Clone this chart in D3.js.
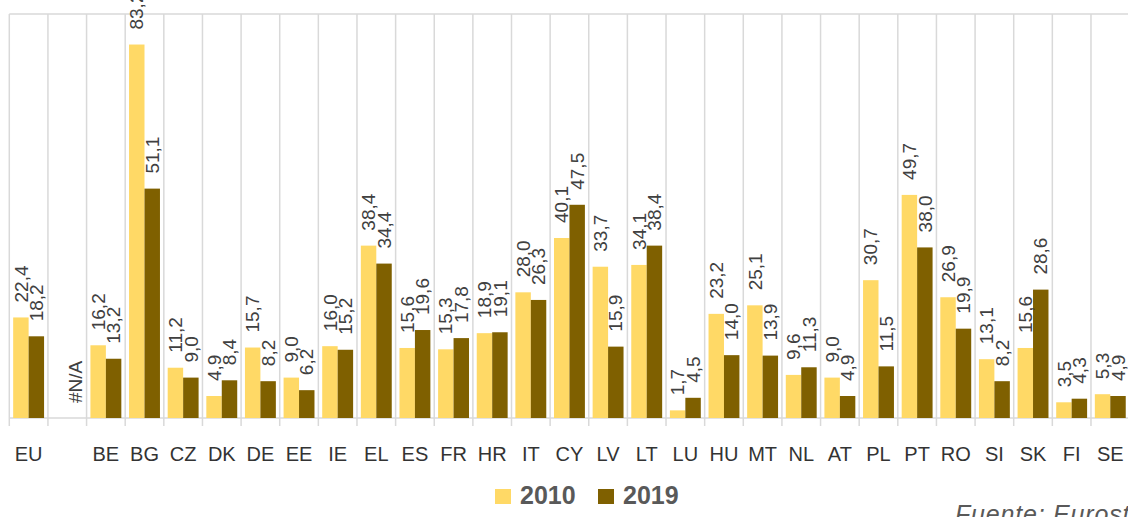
<!DOCTYPE html>
<html>
<head>
<meta charset="utf-8">
<script src="https://cdn.jsdelivr.net/npm/d3@7"></script>
<style>
  body { margin: 0; background: #fff; }
  svg { display: block; font-family: "Liberation Sans", Arial, sans-serif; }
</style>
</head>
<body>
<div id="chart"></div>
<script>
'use strict';

// categories ("" is the empty slot after EU)
let countries = ["EU", "", "BE", "BG", "CZ", "DK", "DE", "EE", "IE", "EL", "ES", "FR", "HR", "IT", "CY",
                 "LV", "LT", "LU", "HU", "MT", "NL", "AT", "PL", "PT", "RO", "SI", "SK", "FI", "SE"];
let years = ["2010", "2019"];
let values2010 = [22.4, null, 16.2, 83.2, 11.2, 4.9, 15.7, 9.0, 16.0, 38.4, 15.6, 15.3, 18.9, 28.0, 40.1,
                  33.7, 34.1, 1.7, 23.2, 25.1, 9.6, 9.0, 30.7, 49.7, 26.9, 13.1, 15.6, 3.5, 5.3];
let values2019 = [18.2, null, 13.2, 51.1, 9.0, 8.4, 8.2, 6.2, 15.2, 34.4, 19.6, 17.8, 19.1, 26.3, 47.5,
                  15.9, 38.4, 4.5, 14.0, 13.9, 11.3, 4.9, 11.5, 38.0, 19.9, 8.2, 28.6, 4.3, 4.9];
let yMax = 90;
let source = "Fuente: Eurostat";

let colors = {"2010": "#FFD966", "2019": "#7F6000"};
let textColor = "#404040";

let width = 1128, height = 517;
let margin = {top: 14, left: 9.3, bottom: 418};
let plotRight = 1129.6;

let svg = d3.select("#chart").append("svg")
    .attr("width", width)
    .attr("height", height);

let rows = countries.map((c, i) => ({country: c, "2010": values2010[i], "2019": values2019[i]}));

let x0 = d3.scaleBand().domain(countries).range([margin.left, plotRight]).padding(0);
let x1 = d3.scaleBand().domain(years).range([0, x0.bandwidth()]).paddingInner(0).paddingOuter(0.25);
let y = d3.scaleLinear().domain([0, yMax]).range([margin.bottom, margin.top]);

let fmt = d3.formatLocale({decimal: ",", thousands: ".", grouping: [3], currency: ["", ""]}).format(".1f");

//gridlines at category boundaries
let bounds = countries.map(c => x0(c)).concat([plotRight]);
svg.append("g")
    .selectAll("line")
    .data(bounds)
    .join("line")
    .attr("x1", d => d).attr("x2", d => d)
    .attr("y1", y(yMax)).attr("y2", y(0) + 8)
    .attr("stroke", "#d9d9d9")
    .attr("stroke-width", 1.5);

//top border and baseline
svg.append("line")
    .attr("x1", margin.left).attr("x2", plotRight)
    .attr("y1", y(yMax)).attr("y2", y(yMax))
    .attr("stroke", "#d9d9d9").attr("stroke-width", 1.5);
svg.append("line")
    .attr("x1", margin.left).attr("x2", plotRight)
    .attr("y1", y(0)).attr("y2", y(0))
    .attr("stroke", "#d9d9d9").attr("stroke-width", 1.5);

//bars
let groups = svg.append("g")
    .selectAll("g")
    .data(rows)
    .join("g")
    .attr("transform", d => "translate(" + x0(d.country) + ",0)");

groups.selectAll("rect")
    .data(d => years.map(k => ({key: k, value: d[k]})).filter(e => e.value !== null))
    .join("rect")
    .attr("x", d => x1(d.key))
    .attr("width", x1.bandwidth())
    .attr("y", d => y(d.value))
    .attr("height", d => y(0) - y(d.value))
    .attr("fill", d => colors[d.key]);

//data labels (the empty slot shows #N/A for 2019)
groups.selectAll("text")
    .data(d => years.map(k => ({key: k, value: d[k]})).filter(e => e.value !== null || e.key === "2019"))
    .join("text")
    .attr("transform", d => "translate(" + (x1(d.key) + x1.bandwidth() / 2) + "," + (y(d.value === null ? 0 : d.value) - 15) + ")rotate(-90)")
    .attr("dy", "0.35em")
    .attr("text-anchor", "start")
    .attr("font-size", 19)
    .attr("fill", textColor)
    .text(d => d.value === null ? "#N/A" : fmt(d.value));

//category axis
let xAxis = d3.axisBottom(x0).tickSize(0).tickPadding(0);
svg.append("g")
    .attr("transform", "translate(0," + y(0) + ")")
    .call(xAxis)
    .call(g => g.select(".domain").remove())
    .selectAll("text")
    .attr("y", 43)
    .attr("dy", 0)
    .attr("font-size", 20)
    .attr("font-family", "Liberation Sans, Arial, sans-serif")
    .attr("fill", "#333333");

//legend
let legendX = d3.scaleOrdinal().domain(years).range([495, 598]);
let legend = svg.append("g")
    .selectAll("g")
    .data(years)
    .join("g")
    .attr("transform", d => "translate(" + legendX(d) + ",489)");
legend.append("rect")
    .attr("width", 16).attr("height", 15)
    .attr("fill", d => colors[d]);
legend.append("text")
    .attr("x", 25).attr("y", 15)
    .attr("font-size", 25)
    .attr("font-weight", "bold")
    .attr("fill", "#595959")
    .text(d => d);

//source
svg.append("text")
    .attr("x", 955).attr("y", 523)
    .attr("font-size", 25)
    .attr("font-style", "italic")
    .attr("letter-spacing", 0.8)
    .attr("fill", "#595959")
    .text(source);
</script>
</body>
</html>
